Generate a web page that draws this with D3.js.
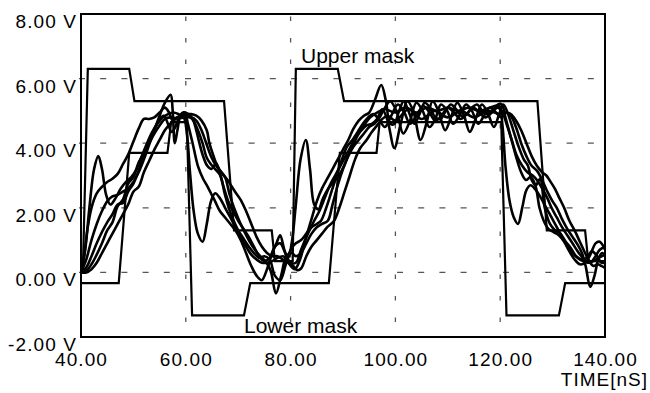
<!DOCTYPE html>
<html>
<head>
<meta charset="utf-8">
<script src="https://cdn.jsdelivr.net/npm/d3@7"></script>
<style>
  body { margin: 0; background: #fff; }
  svg { display: block; }
  text { font-family: "Liberation Sans", Arial, Helvetica, sans-serif; fill: #000; }
</style>
</head>
<body>
<div id="chart"></div>
<script>
// tick values
var timeTicks = [40, 60, 80, 100, 120, 140];
var voltTicks = [-2, 0, 2, 4, 6, 8];

// masks [time nS, volts]
var upperMask = [[40,0.35],[40.4,0.35],[41.3,6.3],[49.2,6.3],[50.2,5.3],[67.3,5.3],[69.2,1.3],[76.4,1.3],[77.0,0.35],[80.4,0.35],[81.0,6.3],[89.0,6.3],[90.2,5.3],[127.1,5.3],[128.9,1.3],[136.2,1.3],[136.8,0.35],[140,0.35]];
var lowerMask = [[40,-0.33],[47.2,-0.33],[49.2,3.7],[56.5,3.7],[57.2,4.65],[60.2,4.65],[61.2,-1.33],[71.1,-1.33],[72.3,-0.33],[87.3,-0.33],[89.4,3.7],[96.4,3.7],[97.0,4.65],[120.2,4.65],[121.2,-1.33],[131.2,-1.33],[132.4,-0.33],[140,-0.33]];

// measured waveforms [time nS, volts]
var traceA = [[40.0,0.0],[40.8,0.7],[41.6,2.0],[42.5,3.2],[43.3,3.6],[44.0,3.2],[44.8,2.4],[45.6,2.1],[46.6,2.3],[47.6,2.6],[48.6,2.8],[49.6,2.95],[50.6,3.2],[51.6,3.6],[52.6,4.0],[53.6,4.35],[54.6,4.6],[55.6,4.8],[56.6,4.9],[57.6,4.95],[58.6,4.9],[59.6,4.8],[60.2,4.3],[60.8,3.1],[61.5,1.9],[62.3,1.2],[63.2,0.95],[64.0,1.5],[64.8,2.2],[65.6,2.45],[66.5,2.3],[67.5,2.0],[68.5,1.7],[69.5,1.4],[70.5,1.1],[71.5,0.8],[72.5,0.55],[73.5,0.4],[74.5,0.3],[75.5,0.3],[76.5,0.35],[77.5,0.45],[78.5,0.5],[79.5,0.45],[80.2,0.9],[81.0,2.1],[81.9,3.5],[82.9,4.1],[83.7,3.2],[84.5,2.1],[85.3,1.95],[86.2,2.3],[87.2,2.6],[88.2,2.8],[89.2,3.0],[90.2,3.3],[91.2,3.7],[92.2,4.05],[93.2,4.35],[94.2,4.6],[95.2,4.8],[96.5,4.95],[98.0,5.05],[100.0,4.95],[102.0,5.1],[104.0,4.95],[106.0,5.1],[108.0,5.0],[110.0,5.1],[112.0,5.0],[114.0,5.1],[116.0,5.0],[118.0,5.1],[119.8,5.15],[120.4,4.6],[121.0,3.3],[121.8,2.2],[122.6,1.7],[123.4,1.5],[124.2,2.0],[125.0,2.55],[125.8,2.7],[126.8,2.55],[127.8,2.3],[128.8,2.0],[129.8,1.7],[130.8,1.4],[131.8,1.1],[132.8,0.85],[133.8,0.6],[134.8,0.45],[135.8,0.35],[136.8,0.3],[137.8,0.35],[138.8,0.45],[140.0,0.55]];
var traceB = [[40.0,0.0],[41.0,0.4],[42.0,1.0],[43.0,1.5],[44.0,1.9],[45.0,2.2],[46.0,2.35],[47.0,2.4],[48.0,2.5],[49.0,2.6],[50.0,2.8],[51.0,3.1],[52.0,3.5],[53.0,3.95],[54.0,4.4],[55.0,4.85],[56.0,5.25],[57.1,5.5],[57.5,5.0],[57.9,4.0],[58.4,4.4],[59.0,4.85],[59.8,4.95],[60.4,4.6],[61.3,4.0],[62.3,3.3],[63.3,2.9],[64.0,2.7],[64.8,2.45],[65.6,2.2],[66.5,1.9],[67.5,1.7],[68.5,1.5],[69.5,1.3],[70.5,1.0],[71.5,0.6],[72.5,0.2],[73.5,-0.1],[74.5,-0.24],[75.5,0.1],[76.5,0.6],[77.3,0.9],[78.0,1.15],[78.8,0.7],[79.8,0.25],[80.8,0.1],[81.8,0.4],[82.8,1.0],[83.9,1.6],[85.0,2.2],[86.0,2.6],[87.0,2.9],[88.0,3.2],[89.0,3.5],[90.0,3.8],[91.0,4.1],[92.0,4.45],[93.0,4.7],[94.0,4.85],[95.0,4.95],[96.0,5.3],[97.3,5.8],[98.2,5.3],[99.0,4.6],[99.8,4.6],[100.7,5.0],[101.6,5.3],[102.6,4.95],[103.6,4.6],[104.6,4.9],[105.6,5.25],[106.6,5.1],[107.6,4.8],[108.6,4.75],[109.6,5.0],[110.6,5.2],[111.6,5.05],[112.6,4.85],[113.6,4.9],[114.6,5.1],[115.6,5.2],[116.6,5.0],[117.6,4.9],[118.6,5.0],[119.6,5.2],[120.3,5.2],[121.0,4.8],[122.0,4.2],[123.0,3.6],[124.0,3.1],[124.9,2.86],[125.8,2.95],[126.7,2.7],[127.5,2.0],[128.3,1.6],[129.2,1.35],[130.2,1.25],[131.2,1.15],[132.2,0.95],[133.2,0.65],[134.2,0.4],[135.2,0.25],[136.2,0.3],[137.2,0.55],[138.2,0.9],[139.0,0.95],[140.0,0.7]];
var traceC = [[40.0,0.0],[41.0,0.15],[42.0,0.5],[43.0,0.9],[44.0,1.25],[45.0,1.55],[46.0,1.8],[47.0,2.1],[48.0,2.15],[49.0,2.5],[50.0,2.75],[51.0,3.15],[52.0,3.6],[53.0,4.05],[54.0,4.45],[55.0,4.75],[55.8,4.85],[56.6,4.6],[57.3,4.35],[58.0,4.5],[58.7,4.8],[59.5,4.95],[60.5,4.9],[61.3,4.75],[62.0,4.4],[62.6,4.0],[63.3,3.6],[64.1,3.3],[64.9,3.2],[65.8,3.38],[66.6,3.0],[67.3,2.6],[68.1,2.2],[69.0,1.9],[70.0,1.6],[71.0,1.35],[72.0,1.1],[73.0,0.8],[74.0,0.5],[75.0,0.35],[76.0,0.45],[77.0,0.8],[78.0,0.9],[79.0,0.6],[80.0,0.3],[81.0,0.3],[82.0,0.7],[83.3,1.2],[84.5,1.6],[85.5,1.9],[86.5,2.3],[87.5,2.7],[88.5,3.0],[89.5,3.3],[90.5,3.6],[91.5,3.9],[92.5,4.2],[93.5,4.4],[94.5,4.55],[95.5,4.6],[96.5,4.75],[97.5,5.05],[98.5,4.7],[99.8,3.85],[101.0,4.6],[102.3,5.3],[103.4,5.0],[104.8,4.1],[105.9,4.6],[107.1,5.3],[108.2,5.0],[109.5,4.4],[110.6,4.8],[111.8,5.25],[113.0,4.9],[114.2,4.35],[115.3,4.75],[116.5,5.2],[117.6,4.95],[118.8,4.5],[119.8,4.9],[120.6,5.2],[121.5,4.9],[122.5,4.4],[123.5,3.9],[124.5,3.5],[125.3,3.3],[126.0,2.86],[126.8,2.7],[127.6,2.9],[128.5,2.0],[129.5,1.5],[130.5,1.3],[131.5,1.2],[132.5,0.95],[133.5,0.75],[134.5,0.5],[135.5,0.4],[136.5,0.45],[137.5,0.65],[138.5,0.5],[139.3,0.3],[140.0,0.3]];
var traceD = [[40.0,0.0],[40.6,0.5],[41.2,1.3],[42.0,2.0],[43.0,2.45],[44.0,2.65],[45.0,2.8],[46.0,2.9],[47.0,3.05],[48.0,3.35],[49.0,3.65],[50.0,4.05],[51.0,4.45],[52.0,4.75],[53.0,4.75],[54.0,4.8],[55.0,4.95],[56.0,5.1],[56.8,4.95],[57.5,4.7],[58.3,4.8],[59.2,4.85],[60.2,4.85],[61.2,4.75],[62.2,4.45],[63.2,4.0],[64.0,3.55],[64.8,3.35],[65.6,3.2],[66.6,3.0],[67.4,2.45],[68.2,2.0],[69.0,1.65],[70.0,1.3],[71.0,1.05],[72.0,0.8],[73.0,0.6],[74.0,0.45],[75.0,0.5],[76.0,0.4],[77.0,-0.1],[78.0,-0.24],[79.0,0.2],[80.0,0.7],[81.0,0.9],[82.0,1.0],[83.0,1.2],[84.0,1.4],[85.0,1.5],[85.8,1.6],[86.8,2.0],[87.8,2.5],[88.8,3.0],[89.8,3.5],[90.8,3.9],[91.8,4.1],[92.8,4.35],[93.8,4.6],[94.8,4.8],[95.8,4.9],[96.8,4.75],[98.0,4.5],[99.2,4.85],[100.5,5.2],[101.7,4.95],[102.8,4.6],[104.0,4.85],[105.3,5.15],[106.5,4.95],[107.6,4.7],[108.8,4.85],[110.0,5.1],[111.2,4.95],[112.4,4.75],[113.6,4.9],[114.8,5.1],[116.0,4.95],[117.2,4.8],[118.4,4.95],[119.5,5.1],[120.3,5.0],[121.2,4.6],[122.2,4.1],[123.2,3.6],[124.2,3.3],[125.2,3.1],[126.2,3.0],[127.0,2.86],[128.0,2.6],[129.0,2.3],[129.8,2.0],[130.8,1.7],[131.8,1.4],[132.8,1.15],[133.8,0.9],[134.8,0.65],[135.5,0.5],[136.3,0.35],[137.2,0.3],[138.0,0.45],[139.0,0.7],[140.0,0.8]];
var traceE = [[40.0,0.0],[41.0,0.05],[42.0,0.25],[43.0,0.55],[44.0,0.9],[45.0,1.3],[46.0,1.55],[47.0,2.05],[48.0,2.25],[49.0,2.75],[50.0,2.95],[51.0,3.4],[52.0,3.7],[53.0,4.0],[54.0,4.3],[55.0,4.55],[56.0,4.75],[57.0,4.8],[58.0,4.78],[59.0,4.78],[60.0,4.8],[61.0,4.8],[62.0,4.7],[63.0,4.4],[63.9,4.0],[64.8,3.6],[65.8,3.3],[66.8,3.1],[67.5,2.95],[68.3,2.45],[69.2,2.0],[70.2,1.6],[71.2,1.25],[72.2,0.95],[73.2,0.7],[74.2,0.5],[75.2,0.35],[76.2,0.05],[77.2,-0.65],[78.2,-0.1],[79.2,0.5],[80.2,0.6],[81.0,0.5],[82.0,0.6],[83.0,0.9],[84.0,1.2],[85.0,1.4],[86.0,1.5],[87.1,1.6],[88.0,2.1],[89.0,2.7],[90.0,3.2],[91.0,3.6],[92.0,3.9],[93.0,4.1],[94.0,4.3],[95.0,4.5],[96.0,4.6],[97.0,4.8],[98.0,5.1],[99.0,5.3],[100.2,5.0],[101.5,4.3],[102.8,4.7],[104.0,5.25],[105.2,5.0],[106.5,4.5],[107.6,4.75],[108.7,5.2],[109.9,5.0],[111.0,4.6],[112.2,4.85],[113.5,5.2],[114.6,5.0],[115.8,4.6],[116.9,4.85],[118.0,5.1],[119.2,4.95],[120.2,4.8],[121.0,4.95],[122.0,4.85],[123.0,4.5],[124.0,4.0],[125.0,3.6],[126.0,3.3],[127.0,3.15],[128.0,2.86],[129.0,2.5],[130.0,2.2],[130.8,2.0],[131.8,1.65],[132.8,1.35],[133.8,1.1],[134.8,0.85],[135.6,0.6],[136.3,0.2],[137.2,-0.45],[138.0,-0.1],[138.8,0.45],[139.5,0.6],[140.0,0.5]];
var traceF = [[40.0,0.0],[41.0,0.0],[42.0,0.1],[43.0,0.3],[44.0,0.6],[45.0,0.9],[46.0,1.2],[47.0,1.5],[48.0,1.8],[49.0,2.1],[50.0,2.5],[51.0,2.65],[52.0,3.1],[53.0,3.45],[54.0,3.8],[55.0,4.1],[56.0,4.4],[57.0,4.6],[58.0,4.75],[59.0,4.85],[60.0,4.9],[61.0,4.9],[62.0,4.85],[63.0,4.7],[64.0,4.4],[64.5,4.0],[65.3,3.6],[66.0,3.3],[67.0,3.05],[68.0,2.85],[68.8,2.65],[69.6,2.45],[70.5,2.24],[71.5,1.9],[72.5,1.5],[73.5,1.1],[74.5,0.8],[75.5,0.6],[76.5,0.5],[77.5,0.5],[78.5,0.4],[79.5,0.3],[80.5,0.2],[81.3,0.07],[82.0,0.12],[83.0,0.5],[84.0,0.8],[85.0,1.0],[86.0,1.2],[87.0,1.4],[88.3,1.6],[89.3,2.0],[90.3,2.5],[91.3,3.0],[92.3,3.5],[93.3,3.85],[94.5,4.1],[95.5,4.35],[96.5,4.55],[97.5,4.75],[98.5,4.85],[100.0,4.7],[102.5,5.05],[105.0,4.75],[107.5,5.0],[110.0,4.8],[112.5,5.0],[115.0,4.8],[117.5,5.0],[120.0,4.9],[121.0,4.95],[122.0,4.9],[123.0,4.7],[124.0,4.4],[125.0,4.0],[126.0,3.6],[127.0,3.3],[128.0,3.1],[128.8,3.0],[129.4,2.86],[130.4,2.6],[131.3,2.3],[132.2,2.0],[133.2,1.6],[134.2,1.3],[135.2,0.95],[136.2,0.6],[137.0,0.35],[137.8,0.2],[138.6,0.25],[139.3,0.2],[140.0,0.14]];

var traces = [traceF, traceE, traceD, traceC, traceB, traceA];

var width = 650, height = 393;
var plotLeft = 81, plotRight = 605, plotTop = 14, plotBottom = 337;

var x = d3.scaleLinear().domain([40, 140]).range([plotLeft, plotRight]);
var y = d3.scaleLinear().domain([-2, 8]).range([plotBottom, plotTop]);

var svg = d3.select("#chart").append("svg")
	.attr("width", width)
	.attr("height", height);

svg.append("defs").append("clipPath").attr("id", "plotclip")
	.append("rect")
	.attr("x", plotLeft).attr("y", plotTop)
	.attr("width", plotRight - plotLeft).attr("height", plotBottom - plotTop);

// dashed grid
var grid = svg.append("g").attr("class", "grid");
grid.selectAll("line.h")
	.data(voltTicks.filter(function(v) { return v > -2 && v < 8; }))
	.enter().append("line")
	.attr("class", "h")
	.attr("x1", plotLeft - 2).attr("x2", plotRight)
	.attr("y1", function(d) { return y(d); })
	.attr("y2", function(d) { return y(d); })
	.attr("stroke", "#555").attr("stroke-width", 1.3)
	.attr("stroke-dasharray", "6,15.2");
grid.selectAll("line.v")
	.data(timeTicks.filter(function(t) { return t > 40 && t < 140; }))
	.enter().append("line")
	.attr("class", "v")
	.attr("x1", function(d) { return x(d); })
	.attr("x2", function(d) { return x(d); })
	.attr("y1", plotTop + 2.5).attr("y2", plotBottom)
	.attr("stroke", "#555").attr("stroke-width", 1.3)
	.attr("stroke-dasharray", "4.5,17");

// masks and traces
var maskLine = d3.line()
	.x(function(d) { return x(d[0]); })
	.y(function(d) { return y(d[1]); });
var traceLine = d3.line()
	.x(function(d) { return x(d[0]); })
	.y(function(d) { return y(d[1]); })
	.curve(d3.curveCatmullRom.alpha(0.5));

var plot = svg.append("g").attr("clip-path", "url(#plotclip)");
plot.selectAll("path.mask")
	.data([upperMask, lowerMask])
	.enter().append("path")
	.attr("class", "mask")
	.attr("d", maskLine)
	.attr("fill", "none").attr("stroke", "#000")
	.attr("stroke-width", 2.2).attr("stroke-linejoin", "miter");
plot.selectAll("path.trace")
	.data(traces)
	.enter().append("path")
	.attr("class", "trace")
	.attr("d", traceLine)
	.attr("fill", "none").attr("stroke", "#000")
	.attr("stroke-width", 2.6).attr("stroke-linejoin", "round");

// frame
svg.append("rect")
	.attr("x", plotLeft).attr("y", plotTop)
	.attr("width", plotRight - plotLeft).attr("height", plotBottom - plotTop)
	.attr("fill", "none").attr("stroke", "#000").attr("stroke-width", 2);

// axes (labels only, frame drawn above)
var yAxis = svg.append("g")
	.attr("transform", "translate(" + plotLeft + ",0)")
	.call(d3.axisLeft(y).tickValues(voltTicks).tickSize(0)
		.tickFormat(function(d) { return d.toFixed(2) + " V"; }));
yAxis.select(".domain").remove();
yAxis.selectAll("text")
	.attr("x", -4).attr("dy", 13.4)
	.style("font-size", "19px").style("letter-spacing", "1.1px")
	.style("font-family", "'Liberation Sans', Arial, sans-serif").attr("fill", "#000");

var xAxis = svg.append("g")
	.attr("transform", "translate(0," + plotBottom + ")")
	.call(d3.axisBottom(x).tickValues(timeTicks).tickSize(0)
		.tickFormat(function(d) { return d.toFixed(2); }));
xAxis.select(".domain").remove();
xAxis.selectAll("text")
	.attr("y", 29).attr("dy", 0)
	.style("font-size", "19px").style("letter-spacing", "1.1px")
	.style("font-family", "'Liberation Sans', Arial, sans-serif").attr("fill", "#000");

svg.append("text")
	.attr("x", 648).attr("y", 386)
	.attr("text-anchor", "end")
	.style("font-size", "19px").style("letter-spacing", "1px")
	.text("TIME[nS]");

// mask labels
svg.append("text")
	.attr("x", 301).attr("y", 63)
	.style("font-size", "21px")
	.text("Upper mask");
svg.append("text")
	.attr("x", 244).attr("y", 332.5)
	.style("font-size", "21px")
	.text("Lower mask");
</script>
</body>
</html>
